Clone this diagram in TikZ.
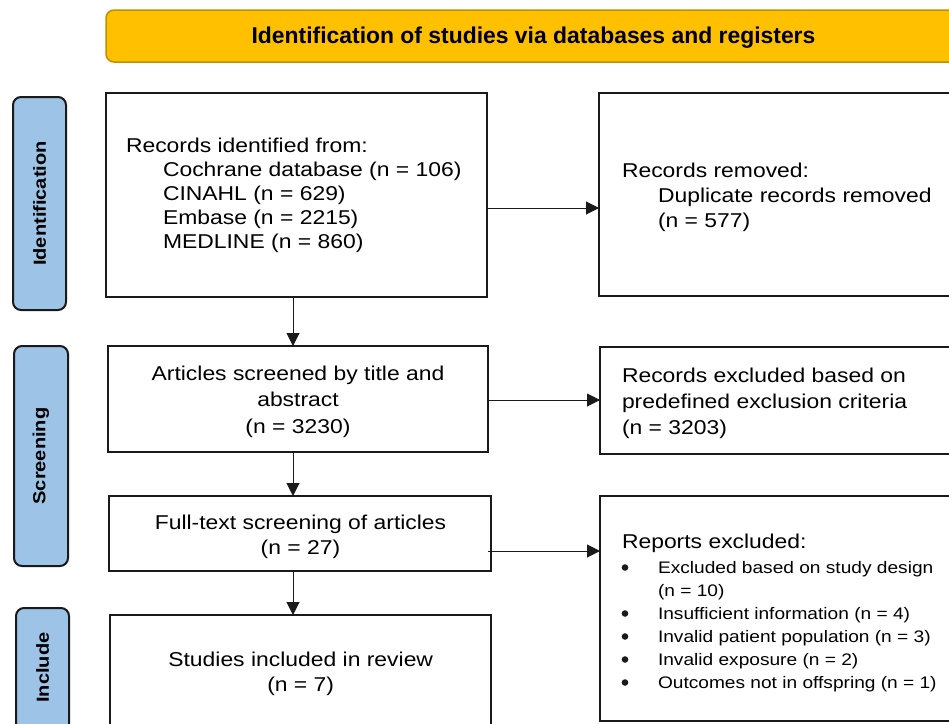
\documentclass[tikz,border=0pt]{standalone}
\usepackage{fontspec}
\setmainfont{Liberation Sans}
\newfontfamily\bodyf[FakeStretch=1.145]{Liberation Sans}
\usetikzlibrary{arrows.meta}
\definecolor{hdrfill}{HTML}{FFC000}
\definecolor{hdrdraw}{HTML}{BF9000}
\definecolor{labfill}{HTML}{9DC3E6}
\definecolor{edge}{HTML}{1A1A1A}
\newcommand\myst{\rule{0pt}{15pt}}
\newcommand\mystb{\rule{0pt}{12.5pt}}
\tikzset{
  box/.style={draw=edge, line width=2pt, fill=white, inner sep=0pt, outer sep=0pt, anchor=north west},
  lab/.style={draw=edge, line width=2pt, fill=labfill, rounded corners=8pt, inner sep=0pt, outer sep=0pt, anchor=north west},
  hdr/.style={draw=hdrdraw, line width=1.5pt, fill=hdrfill, rounded corners=8pt, inner sep=0pt, outer sep=0pt, anchor=north west},
  arr/.style={draw=edge, line width=1pt, -{Triangle[length=13pt,width=13pt]}},
  labtext/.style={inner sep=0pt, rotate=90, font=\bodyf\bfseries\fontsize{17.5}{20}\selectfont},
  ltext/.style={inner sep=0pt, outer sep=0pt, align=left, anchor=north west},
  ctext/.style={inner sep=0pt, outer sep=0pt, align=center, anchor=north},
  bulletdot/.style={fill=edge},
}
\begin{document}
\begin{tikzpicture}[x=1pt,y=-1pt]
\useasboundingbox (0,0) rectangle (949,723);
\clip (0,0) rectangle (949,723);
\fill[white] (0,0) rectangle (949,723);

% header
\node[hdr, minimum width=900pt, minimum height=52pt] (hdr) at (106,10) {};
\node[inner sep=0pt, anchor=base, font=\bfseries\fontsize{22.9}{26}\selectfont] (hdrtext) at (533.5,43.3) {Identification of studies via databases and registers};

% phase labels
\node[lab, minimum width=53pt, minimum height=213pt] (labid) at (13,97) {};
\node[labtext] (labidt) at (labid.center) {Identification};
\node[lab, minimum width=54pt, minimum height=220pt] (labsc) at (14,346) {};
\node[labtext] (labsct) at (labsc.center) {Screening};
\node[lab, minimum width=53pt, minimum height=140pt] (labin) at (16,608) {};
\node[labtext] (labint) at (42.5,667.5) {Include};

% boxes
\node[box, minimum width=381pt, minimum height=204pt] (records) at (106,93) {};
\node[box, minimum width=400pt, minimum height=203pt] (removed) at (599,93) {};
\node[box, minimum width=380pt, minimum height=106pt] (articles) at (108,346) {};
\node[box, minimum width=400pt, minimum height=107pt] (excluded) at (600,347) {};
\node[box, minimum width=382pt, minimum height=75pt] (full) at (109,496) {};
\node[box, minimum width=400pt, minimum height=225pt] (reports) at (600,496) {};
\node[box, minimum width=381pt, minimum height=140pt] (included) at (110,615) {};

% texts
\node[ltext, font=\bodyf\fontsize{20}{24}\selectfont] (rect) at (126,137) {\myst Records identified from:\\
\hspace*{37pt}Cochrane database (n = 106)\\
\hspace*{37pt}CINAHL (n = 629)\\
\hspace*{37pt}Embase (n = 2215)\\
\hspace*{37pt}MEDLINE (n = 860)};
\node[ltext, font=\bodyf\fontsize{20}{25}\selectfont] (remt) at (622,162) {\myst Records removed:\\
\hspace*{36pt}Duplicate records removed\\
\hspace*{36pt}(n = 577)};
\node[ctext, font=\bodyf\fontsize{20}{26.5}\selectfont] (artt) at (298,365) {\myst Articles screened by title and\\abstract\\(n = 3230)};
\node[ltext, font=\bodyf\fontsize{20}{26}\selectfont] (exct) at (622,367) {\myst Records excluded based on\\predefined exclusion criteria\\(n = 3203)};
\node[ctext, font=\bodyf\fontsize{20}{25}\selectfont] (fullt) at (300.5,514) {\myst Full-text screening of articles\\(n = 27)};
\node[ctext, font=\bodyf\fontsize{20}{25}\selectfont] (inct) at (300.7,651) {\myst Studies included in review\\(n = 7)};
\node[ltext, font=\bodyf\fontsize{20}{24}\selectfont] (rept) at (622,533) {\myst Reports excluded:};
\node[ltext, font=\bodyf\fontsize{16.7}{23}\selectfont] (repl) at (658,560.5) {\mystb Excluded based on study design\\
(n = 10)\\
Insufficient information (n = 4)\\
Invalid patient population (n = 3)\\
Invalid exposure (n = 2)\\
Outcomes not in offspring (n = 1)};
\foreach \by in {567.5,613.5,636.5,659.5,682.5}
  \fill[bulletdot] (625,\by) circle (3.3pt);

% connectors
\coordinate (ax) at (293,0);
\draw[arr] ([yshift=-13pt]records.east) -- ([yshift=-13pt]records.east -| removed.west);
\draw[arr] (records.south -| ax) -- (articles.north -| ax);
\draw[arr] ([yshift=-1pt]articles.east) -- ([yshift=-1pt]articles.east -| excluded.west);
\draw[arr] (articles.south -| ax) -- (full.north -| ax);
\draw[arr] ([yshift=-17.5pt,xshift=-3pt]full.east) -- ([yshift=-17.5pt]full.east -| reports.west);
\draw[arr] (full.south -| ax) -- (included.north -| ax);
\end{tikzpicture}
\end{document}
